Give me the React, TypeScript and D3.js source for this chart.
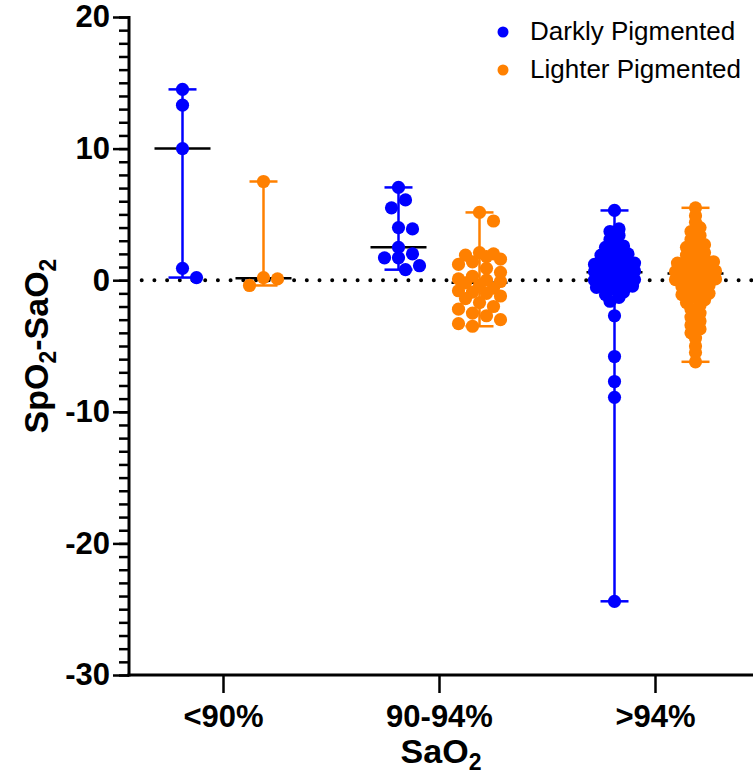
import * as d3 from "d3";
import React, {useEffect, useRef} from "react";

const categories = ["<90%", "90-94%", ">94%"];
const seriesNames = ["Darkly Pigmented", "Lighter Pigmented"];
const seriesColors = ["#0000ff", "#ff8000"];
const yTicks = [-30, -20, -10, 0, 10, 20];

// darkly pigmented, one array per SaO2 group
const darkLow = [14.5, 13.3, 10.0, 0.9, 0.2];
const darkMid = [7.05, 6.1, 5.5, 4.0, 3.9, 2.5, 2.0, 1.7, 1.7, 1.1, 0.8];
const darkHigh = [
    5.3, 3.9, 3.7, 3.4, 3.1, 2.8, 2.6, 2.5, 2.3, 2.1, 2.0, 1.9, 1.7, 1.6, 1.5, 1.4, 1.3, 1.2, 1.15, 1.05, 1.0,
    0.95, 0.85, 0.8, 0.75, 0.7, 0.65, 0.55, 0.5, 0.45, 0.4, 0.35, 0.3, 0.25, 0.2, 0.15, 0.1, 0.05, 0.0, -0.1, -0.2,
    -0.3, -0.45, -0.55, -0.7, -0.9, -1.1, -1.3, -1.6, -2.7, -5.8, -7.7, -8.9, -24.4
];

// lighter pigmented
const lightLow = [7.5, 0.2, 0.1, -0.4];
const lightMid = [
    5.15, 4.5, 2.1, 2.0, 1.9, 1.8, 1.6, 1.4, 1.2, 0.9, 0.6, 0.3, 0.1, 0.0, -0.1, -0.2, -0.4, -0.6, -0.8, -0.9,
    -1.0, -1.2, -1.4, -1.7, -2.0, -2.2, -2.5, -2.7, -3.0, -3.3, -3.5
];
const lightHigh = [
    5.5, 4.9, 4.4, 4.0, 3.7, 3.4, 3.1, 2.9, 2.7, 2.5, 2.3, 2.1, 1.9, 1.7, 1.6, 1.5, 1.4, 1.3, 1.1, 1.0,
    1.0, 0.9, 0.9, 0.8, 0.8, 0.7, 0.7, 0.65, 0.5, 0.5, 0.4, 0.4, 0.3, 0.2, 0.1, 0.05, -0.1, -0.2, -0.4, -0.5,
    -0.7, -0.9, -1.0, -1.1, -1.3, -1.5, -1.7, -1.9, -2.2, -2.5, -2.8, -3.1, -3.4, -3.7, -4.0, -4.4, -5.0, -5.5, -6.2
];

const darkGroups = [darkLow, darkMid, darkHigh];
const lightGroups = [lightLow, lightMid, lightHigh];

const W = 753, H = 778;
const FONT = "'Liberation Sans', Arial, sans-serif";

const App = () => {
    const svgRef = useRef(null);

    useEffect(() => {
        const svg = d3.select(svgRef.current);
        svg.selectAll("*").remove();

        const left = 129, bottom = 675, top = 17;
        const y = d3.scaleLinear().domain([-30, 20]).range([bottom, top]);
        const xCat = d3.scalePoint().domain(categories).range([223, 655]);
        const xSer = d3.scalePoint().domain(seriesNames).range([-40.5, 40.5]);

        const r = 6.6;

        // sparse groups: beeswarm, nearest free offset
        const swarm = (values) => {
            const minD = 13, step = 7, maxOff = 21;
            const cands = [0];
            for (let o = step; o <= maxOff; o += step) cands.push(o, -o);
            const pts = values.map(v => ({v, y: y(v), dx: 0})).sort((a, b) => a.y - b.y);
            const placed = [];
            pts.forEach(p => {
                let best = 0, bestD = -1;
                for (const c of cands) {
                    let md = Infinity;
                    placed.forEach(q => {
                        const d = Math.hypot(q.dx - c, q.y - p.y);
                        if (d < md) md = d;
                    });
                    if (md >= minD) { best = c; break; }
                    if (md > bestD) { bestD = md; best = c; }
                }
                p.dx = best;
                placed.push(p);
            });
            return pts;
        };

        // dense groups: bin by value, spread each bin symmetrically
        const binned = (values) => {
            const bins = d3.group(values, v => Math.floor((v + 1e-6) / 0.6));
            const out = [];
            bins.forEach(vs => {
                const n = vs.length;
                const s = n > 1 ? Math.min(9, 40 / (n - 1)) : 0;
                const offs = d3.range(n).map(i => (i - (n - 1) / 2) * s)
                    .sort((a, b) => Math.abs(a) - Math.abs(b) || b - a);
                vs.slice().sort((a, b) => b - a).forEach((v, i) => out.push({v, y: y(v), dx: offs[i]}));
            });
            return out;
        };

        // zero line (dotted)
        svg.append("line")
            .attr("x1", left + 12.7).attr("x2", W)
            .attr("y1", y(0)).attr("y2", y(0))
            .attr("stroke", "black").attr("stroke-width", 4)
            .attr("stroke-linecap", "round")
            .attr("stroke-dasharray", "0,12.7");

        // groups
        [darkGroups, lightGroups].forEach((groups, si) => {
            const color = seriesColors[si];
            groups.forEach((vals, ci) => {
                const cx = xCat(categories[ci]) + xSer(seriesNames[si]);
                const g = svg.append("g");
                const lo = d3.min(vals), hi = d3.max(vals), med = d3.median(vals);
                g.append("line")
                    .attr("x1", cx).attr("x2", cx).attr("y1", y(lo)).attr("y2", y(hi))
                    .attr("stroke", color).attr("stroke-width", 2.5);
                [lo, hi].forEach(v => g.append("line")
                    .attr("x1", cx - 14).attr("x2", cx + 14).attr("y1", y(v)).attr("y2", y(v))
                    .attr("stroke", color).attr("stroke-width", 2.5));
                g.append("line")
                    .attr("x1", cx - 28).attr("x2", cx + 28).attr("y1", y(med)).attr("y2", y(med))
                    .attr("stroke", "black").attr("stroke-width", 2.5);
                g.selectAll("circle")
                    .data(vals.length > 40 ? binned(vals) : swarm(vals))
                    .enter()
                    .append("circle")
                    .attr("cx", d => cx + d.dx)
                    .attr("cy", d => d.y)
                    .attr("r", r)
                    .attr("fill", color);
            });
        });

        // y axis: minor then major ticks
        svg.append("g")
            .attr("transform", `translate(${left},0)`)
            .call(d3.axisLeft(y).tickValues(d3.range(-30, 21, 1)).tickSize(10).tickFormat(() => ""))
            .call(g => g.select(".domain").remove())
            .call(g => g.selectAll("line").attr("stroke", "black").attr("stroke-width", 2.5));

        svg.append("g")
            .attr("transform", `translate(${left},0)`)
            .call(d3.axisLeft(y).tickValues(yTicks).tickSize(16).tickPadding(3).tickFormat(d => String(d)))
            .call(g => g.select(".domain").remove())
            .call(g => g.selectAll("line").attr("stroke", "black").attr("stroke-width", 2.5))
            .call(g => g.selectAll("text")
                .attr("fill", "black")
                .style("font-family", FONT)
                .style("font-size", "31px")
                .style("font-weight", "bold"));

        svg.append("line")
            .attr("x1", left).attr("x2", left).attr("y1", top - 1).attr("y2", bottom + 1.5)
            .attr("stroke", "black").attr("stroke-width", 3);

        // x axis
        svg.append("g")
            .attr("transform", `translate(0,${bottom})`)
            .call(d3.axisBottom(xCat).tickSize(18).tickPadding(12))
            .call(g => g.select(".domain").remove())
            .call(g => g.selectAll("line").attr("stroke", "black").attr("stroke-width", 2.5))
            .call(g => g.selectAll("text")
                .attr("fill", "black")
                .style("font-family", FONT)
                .style("font-size", "31px")
                .style("font-weight", "bold"));

        svg.append("line")
            .attr("x1", left - 1.5).attr("x2", W).attr("y1", bottom).attr("y2", bottom)
            .attr("stroke", "black").attr("stroke-width", 3);

        // axis titles with subscripts
        const xt = svg.append("text")
            .attr("x", (left + W) / 2).attr("y", 763)
            .attr("text-anchor", "middle")
            .style("font-family", FONT).style("font-weight", "bold").style("font-size", "34px");
        xt.append("tspan").text("SaO");
        xt.append("tspan").attr("dy", 7).style("font-size", "23px").text("2");

        const yt = svg.append("text")
            .attr("transform", `translate(48,${(top + bottom) / 2}) rotate(-90)`)
            .attr("text-anchor", "middle")
            .style("font-family", FONT).style("font-weight", "bold").style("font-size", "34px");
        yt.append("tspan").text("SpO");
        yt.append("tspan").attr("dy", 8).style("font-size", "23px").text("2");
        yt.append("tspan").attr("dy", -8).text("-SaO");
        yt.append("tspan").attr("dy", 8).style("font-size", "23px").text("2");

        // legend
        const leg = svg.append("g");
        seriesNames.forEach((name, i) => {
            const ly = 32 + i * 38;
            leg.append("circle").attr("cx", 503).attr("cy", ly).attr("r", 5.5).attr("fill", seriesColors[i]);
            leg.append("text")
                .attr("x", 530).attr("y", ly + 8)
                .style("font-family", FONT).style("font-size", "26px")
                .attr("fill", "black")
                .text(name);
        });
    }, []);

    return (
        <svg ref={svgRef} width={W} height={H}
             style={{position: "absolute", left: 0, top: 0, background: "white"}}/>
    );
};

export default App;
